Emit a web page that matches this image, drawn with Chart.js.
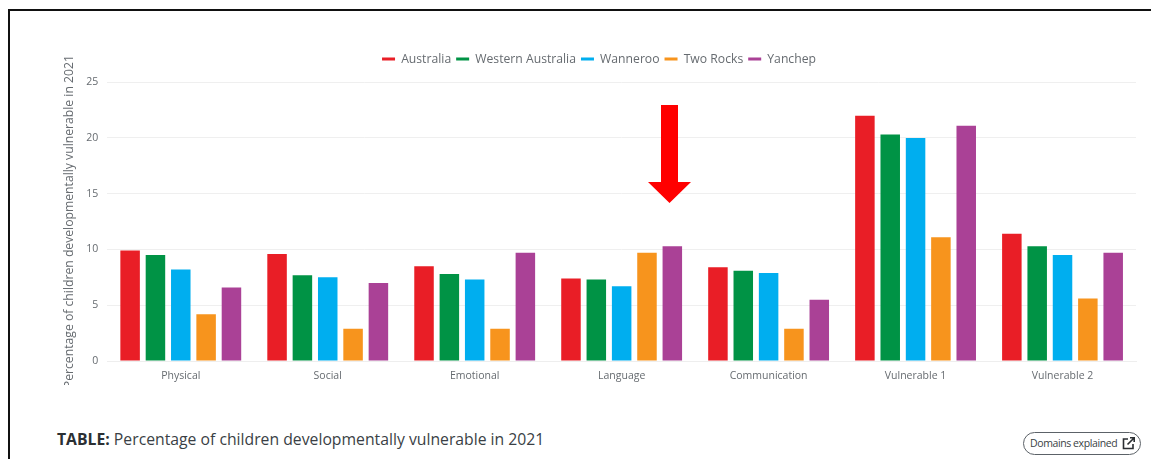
<!DOCTYPE html>
<html lang="en">
<head>
<meta charset="UTF-8" />
<title>Developmentally vulnerable children</title>
<script src="https://cdn.jsdelivr.net/npm/chart.js"></script>
<style>
* { box-sizing: border-box; }
html, body { margin: 0; padding: 0; background: #fff; }
body {
    position: relative;
    width: 1151px;
    height: 459px;
    overflow: hidden;
    font-family: 'Open Sans', sans-serif;
}
.frame-top { position: absolute; left: 8px; top: 9px; right: 0; height: 2px; background: #111; }
.frame-left { position: absolute; left: 8px; top: 9px; bottom: 0; width: 2px; background: #111; }
#chartBox { position: absolute; left: 0; top: 0; width: 1151px; height: 385px; }
.arrow { position: absolute; left: 640px; top: 100px; }
.caption {
    position: absolute;
    left: 57px;
    top: 428px;
    font-size: 15.75px;
    line-height: 22px;
    color: #3a3f45;
}
.caption b { color: #2b2f33; }
.domains-btn {
    position: absolute;
    left: 1023px;
    top: 432px;
    width: 118px;
    height: 23px;
    border: 1px solid #5c6268;
    border-radius: 12px;
    font-size: 10.5px;
    letter-spacing: -0.4px;
    line-height: 21px;
    padding-left: 6px;
    color: #3a3f45;
    white-space: nowrap;
}
.domains-btn svg { position: absolute; right: 4px; top: 3px; }
</style>
</head>
<body>
<div class="frame-top"></div>
<div class="frame-left"></div>
<div id="chartBox"><canvas id="vulnChart" width="1151" height="385"></canvas></div>

<svg class="arrow" width="60" height="110" viewBox="0 0 60 110">
    <polygon points="21,5 38,5 38,82 51,82 29.5,103 8,82 21,82" fill="#ff0000"/>
</svg>

<div class="caption"><b>TABLE:</b> Percentage of children developmentally vulnerable in 2021</div>
<div class="domains-btn">Domains explained
    <svg width="15" height="15" viewBox="0 0 15 15" fill="none" stroke="#2b2f33" stroke-width="1.6">
        <path d="M7 3H2.5v9.5H12V8"/>
        <path d="M6.5 8.5L13 2M9 1.8h4.2V6"/>
    </svg>
</div>

<script>
const categories = ['Physical', 'Social', 'Emotional', 'Language', 'Communication', 'Vulnerable 1', 'Vulnerable 2'];
const australia = [9.9, 9.6, 8.5, 7.4, 8.4, 22.0, 11.4];
const westernAustralia = [9.5, 7.7, 7.8, 7.3, 8.1, 20.3, 10.3];
const wanneroo = [8.2, 7.5, 7.3, 6.7, 7.9, 20.0, 9.5];
const twoRocks = [4.2, 2.9, 2.9, 9.7, 2.9, 11.1, 5.6];
const yanchep = [6.6, 7.0, 9.7, 10.3, 5.5, 21.1, 9.7];

const textColor = '#666b70';
const chartFont = "'Open Sans', sans-serif";

function series(label, data, color) {
    return {
        label, data,
        backgroundColor: color,
        borderWidth: 0,
        categoryPercentage: 0.862,
        barPercentage: 0.77
    };
}

// leaves room between the legend and the plot
const legendGap = {
    id: 'legendGap',
    beforeInit(chart) {
        const fit = chart.legend.fit;
        chart.legend.fit = function () {
            fit.call(this);
            this.height += 7;
        };
    }
};

new Chart(document.getElementById('vulnChart'), {
    type: 'bar',
    data: {
        labels: categories,
        datasets: [
            series('Australia', australia, '#e91e26'),
            series('Western Australia', westernAustralia, '#009345'),
            series('Wanneroo', wanneroo, '#00aeef'),
            series('Two Rocks', twoRocks, '#f7941d'),
            series('Yanchep', yanchep, '#aa4196')
        ]
    },
    options: {
        responsive: false,
        animation: false,
        layout: { padding: { left: 62, right: 15, top: 48, bottom: 0 } },
        plugins: {
            tooltip: { enabled: false },
            legend: {
                position: 'top',
                labels: {
                    boxWidth: 13,
                    boxHeight: 3,
                    padding: 5,
                    color: textColor,
                    font: { family: chartFont, size: 12.2 }
                }
            }
        },
        scales: {
            x: {
                grid: { display: false, drawTicks: false },
                border: { color: '#eeeeee' },
                ticks: { color: textColor, font: { family: chartFont, size: 10.5 }, padding: 9, maxRotation: 0 },
                afterFit(scale) { scale.height = 24; }
            },
            y: {
                min: 0,
                max: 25,
                grid: { color: '#efefef', drawTicks: false },
                border: { display: false },
                ticks: { stepSize: 5, color: textColor, font: { family: chartFont, size: 10.5 }, padding: 9 },
                title: {
                    display: true,
                    text: 'Percentage of children developmentally vulnerable in 2021',
                    color: textColor,
                    font: { family: chartFont, size: 12.2 },
                    padding: 0
                },
                afterFit(scale) { scale.width = 45.3; }
            }
        }
    },
    plugins: [legendGap]
});
</script>
</body>
</html>
